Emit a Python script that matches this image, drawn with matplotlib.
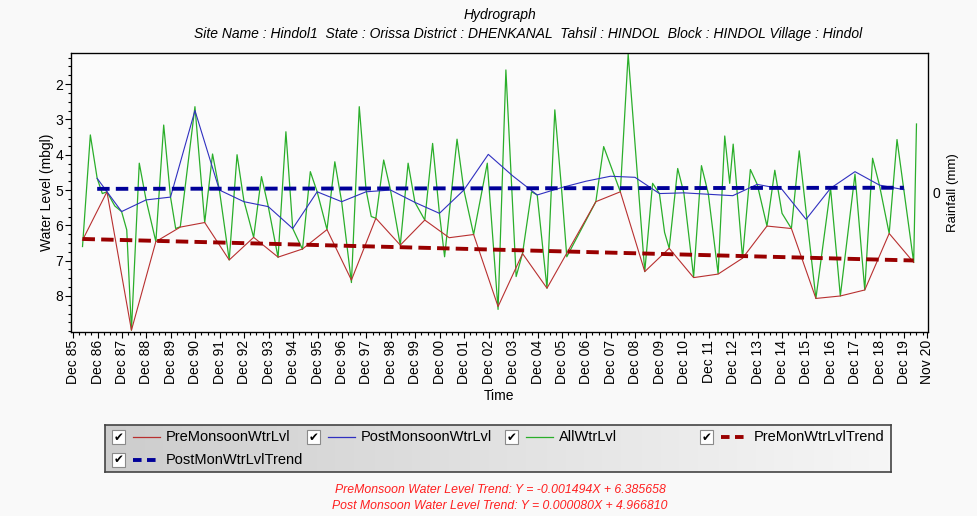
import numpy as np
import pandas as pd
import matplotlib
matplotlib.use("Agg")
import matplotlib.pyplot as plt
from matplotlib.patches import Rectangle
from matplotlib.lines import Line2D
from matplotlib.colors import LinearSegmentedColormap

plt.rcParams['font.family'] = ['Liberation Sans', 'DejaVu Sans']

TITLE = "Hydrograph"
SUBTITLE = ("Site Name : Hindol1  State : Orissa District : DHENKANAL  "
            "Tahsil : HINDOL  Block : HINDOL Village : Hindol")

# pre-monsoon (Apr/May) readings, mbgl -- no reading in 2006
PRE_YEARS = [1986, 1987, 1988, 1989, 1990, 1991, 1992, 1993, 1994, 1995,
             1996, 1997, 1998, 1999, 2000, 2001, 2002, 2003, 2004, 2005,
             2007, 2008, 2009, 2010, 2011, 2012, 2013, 2014, 2015, 2016,
             2017, 2018, 2019, 2020]
PRE_LEVEL = [6.42, 5.05, 8.97, 6.46, 6.05, 5.92, 6.98, 6.34, 6.90, 6.67,
             6.12, 7.55, 5.80, 6.56, 5.85, 6.35, 6.26, 8.30, 6.80, 7.78,
             5.33, 5.05, 7.31, 6.65, 7.48, 7.38, 6.93, 6.02, 6.09, 8.07,
             8.00, 7.83, 6.23, 7.05]

# post-monsoon (Nov) readings, mbgl
POST_YEARS = list(range(1986, 2020))
POST_LEVEL = [4.67, 5.61, 5.28, 5.20, 2.75, 5.00, 5.33, 5.47, 6.09, 5.05,
              5.33, 5.05, 5.00, 5.35, 5.66, 5.00, 3.99, 4.60, 5.14, 4.93,
              4.75, 4.61, 4.64, 5.10, 5.08, 5.12, 5.16, 4.84, 4.97, 5.83,
              4.95, 4.48, 4.86, 4.99]

# all water level readings
ALL_DATES = [
    "1986-04-20", "1986-08-15", "1986-11-25", "1987-02-10", "1987-04-20",
    "1987-08-15", "1987-11-25", "1988-02-10", "1988-04-20", "1988-08-15",
    "1988-11-25", "1989-04-20", "1989-08-15", "1989-11-25", "1990-02-10",
    "1990-04-20", "1990-11-25", "1991-04-20", "1991-08-15", "1991-11-25",
    "1992-04-20", "1992-08-15", "1992-11-25", "1993-04-20", "1993-08-15",
    "1993-11-25", "1994-04-20", "1994-08-15", "1994-11-25", "1995-04-20",
    "1995-08-15", "1995-11-25", "1996-04-20", "1996-08-15", "1996-11-25",
    "1997-04-20", "1997-08-15", "1997-11-25", "1998-02-10", "1998-04-20",
    "1998-08-15", "1998-11-25", "1999-04-20", "1999-08-15", "1999-11-25",
    "2000-04-20", "2000-08-15", "2000-11-25", "2001-02-10", "2001-08-15",
    "2001-11-25", "2002-04-20", "2002-11-10", "2003-04-20", "2003-08-15",
    "2004-01-15", "2004-04-20", "2004-09-01", "2004-11-25", "2005-04-20",
    "2005-08-15", "2005-11-25", "2006-02-10", "2007-04-20", "2007-08-15",
    "2008-04-20", "2008-08-15", "2009-04-20", "2009-08-15", "2009-11-25",
    "2010-02-10", "2010-04-20", "2010-08-25", "2010-11-25", "2011-04-20",
    "2011-08-15", "2011-11-25", "2012-04-20", "2012-07-28", "2012-10-10",
    "2012-12-01", "2013-04-20", "2013-08-15", "2013-11-25", "2014-04-20",
    "2014-08-15", "2014-12-01", "2015-04-20", "2015-08-15", "2016-04-20",
    "2016-11-25", "2017-04-20", "2017-11-25", "2018-04-20", "2018-08-15",
    "2018-11-25", "2019-04-20", "2019-08-15", "2020-04-20", "2020-06-01",
]
ALL_LEVEL = [
    6.60, 3.44, 4.67, 5.10, 5.05,
    5.45, 5.61, 6.13, 8.97, 4.24,
    5.28, 6.46, 3.16, 5.20, 6.09,
    6.04, 2.64, 5.92, 3.98, 5.00,
    6.98, 4.00, 5.30, 6.34, 4.62,
    5.47, 6.91, 3.35, 6.09, 6.68,
    4.48, 5.05, 6.12, 4.20, 5.33,
    7.62, 2.64, 5.00, 5.75, 5.80,
    4.15, 5.00, 6.56, 4.24, 5.35,
    5.85, 3.68, 5.66, 6.89, 3.56,
    5.00, 6.26, 4.24, 8.38, 1.60,
    7.45, 6.79, 5.05, 5.14, 7.78,
    2.73, 5.00, 6.89, 5.33, 3.77,
    5.05, 1.15, 7.31, 4.81, 5.10,
    6.20, 6.65, 4.39, 5.08, 7.46,
    4.31, 5.10, 7.37, 3.47, 4.81,
    3.70, 6.93, 4.42, 4.84, 6.02,
    4.44, 5.66, 6.09, 3.89, 8.07,
    4.95, 8.00, 4.55, 7.83, 4.10,
    4.86, 6.23, 3.57, 7.05, 3.13,
]

# trend equations from the caption: Y = slope * X + intercept, X in months
PRE_TREND = (-0.001494, 6.385658)
POST_TREND = (0.000080, 4.966810)

C_PRE = '#b83030'
C_POST = '#3030c0'
C_ALL = '#2aae2a'
C_PRE_T = '#990000'
C_POST_T = '#000099'
BG = '#f9f9f9'

pre_dates = pd.to_datetime([f"{y}-04-20" for y in PRE_YEARS])
post_dates = pd.to_datetime([f"{y}-11-25" for y in POST_YEARS])
all_dates = pd.to_datetime(ALL_DATES)


def trend_line(dates, coef):
    months = (dates - dates[0]).days / 30.4375
    # depth axis is plotted inverted, so the fitted Y is drawn as intercept - slope*X
    return coef[1] - coef[0] * np.asarray(months)


W, H = 977, 516
fig = plt.figure(figsize=(W / 100, H / 100), dpi=100, facecolor=BG)


def fx(px):
    return px / W


def fy(py):
    return 1 - py / H


ax = fig.add_axes([fx(71), fy(332), fx(928) - fx(71), fy(53) - fy(332)])
ax.set_facecolor('#fbfbfb')

ax.plot(all_dates, ALL_LEVEL, color=C_ALL, lw=0.9, zorder=2)
ax.plot(pre_dates, PRE_LEVEL, color=C_PRE, lw=0.8, zorder=3)
ax.plot(post_dates, POST_LEVEL, color=C_POST, lw=0.8, zorder=3)
ends = [0, -1]
ax.plot(pre_dates[ends], trend_line(pre_dates, PRE_TREND)[ends], color=C_PRE_T,
        lw=2.8, dashes=(3.2, 1.6), zorder=4)
ax.plot(post_dates[ends], trend_line(post_dates, POST_TREND)[ends], color=C_POST_T,
        lw=2.8, dashes=(3.2, 1.6), zorder=4)

ax.set_ylim(9.02, 1.12)
ax.set_yticks(range(2, 9))
ax.set_yticks(np.arange(1.25, 9.01, 0.25), minor=True)
ax.set_xlim(pd.Timestamp("1985-10-30"), pd.Timestamp("2020-11-20"))

major = list(pd.date_range("1985-12-01", "2019-12-01", freq="12MS")) + [pd.Timestamp("2020-11-01")]
minor = [d for d in pd.date_range("1985-12-01", "2020-11-01", freq="3MS") if d.month != 12]
ax.set_xticks(major)
ax.set_xticklabels([d.strftime("%b %y") for d in major], rotation=90)
ax.set_xticks(minor, minor=True)

ax.tick_params(axis='both', which='major', length=4, width=0.8, labelsize=10, pad=1.5)
ax.tick_params(axis='both', which='minor', length=2.5, width=0.8)
for s in ax.spines.values():
    s.set_linewidth(0.9)

ax.set_ylabel("Water Level (mbgl)", fontsize=10, labelpad=1)
ax.set_xlabel("Time", fontsize=10, labelpad=4)

ax2 = ax.twinx()
ax2.set_ylim(-1, 1)
ax2.set_yticks([0])
ax2.tick_params(length=0, labelsize=10, pad=3)
ax2.set_ylabel("Rainfall (mm)", fontsize=9.5, labelpad=5)

fig.text(fx(500), fy(15), TITLE, ha='center', va='center', fontsize=10, style='italic')
fig.text(fx(528), fy(34), SUBTITLE, ha='center', va='center', fontsize=10, style='italic')

# legend box with grey gradient
lax = fig.add_axes([fx(105), fy(472), fx(891) - fx(105), fy(425) - fy(472)])
grad = LinearSegmentedColormap.from_list('g', ['#cdcdcd', '#f6f6f6'])
lax.imshow(np.linspace(0, 1, 256)[None, :], aspect='auto', cmap=grad, extent=(0, 1, 0, 1))
lax.set_xticks([])
lax.set_yticks([])
for s in lax.spines.values():
    s.set_color('#444444')
    s.set_linewidth(1.2)

legend_items = [
    ("PreMonsoonWtrLvl", C_PRE, 0.9, None, 112, 437),
    ("PostMonsoonWtrLvl", C_POST, 0.9, None, 307, 437),
    ("AllWtrLvl", C_ALL, 0.9, None, 505, 437),
    ("PreMonWtrLvlTrend", C_PRE_T, 2.8, (2.2, 1.4), 700, 437),
    ("PostMonWtrLvlTrend", C_POST_T, 2.8, (2.2, 1.4), 112, 460),
]
for label, col, lw, dash, x0, yc in legend_items:
    fig.patches.append(Rectangle((fx(x0), fy(yc + 7)), fx(13), 14 / H,
                                 transform=fig.transFigure, facecolor='white',
                                 edgecolor='#8a8a8a', lw=0.8))
    fig.text(fx(x0 + 6.5), fy(yc), "\u2714", ha='center', va='center', fontsize=8.5,
             family='DejaVu Sans', color='black')
    ln = Line2D([fx(x0 + 21), fx(x0 + 48)], [fy(yc), fy(yc)], transform=fig.transFigure,
                color=col, lw=lw)
    if dash:
        ln.set_dashes(dash)
    fig.lines.append(ln)
    fig.text(fx(x0 + 54), fy(yc), label, ha='left', va='center', fontsize=10.5)

fig.text(fx(500), fy(490), "PreMonsoon Water Level Trend: Y = -0.001494X + 6.385658",
         ha='center', va='center', fontsize=8.8, style='italic', color='#ff2020')
fig.text(fx(500), fy(506), "Post Monsoon Water Level Trend: Y = 0.000080X + 4.966810",
         ha='center', va='center', fontsize=8.8, style='italic', color='#ff2020')

fig.savefig("out.png", dpi=100, facecolor=BG)
